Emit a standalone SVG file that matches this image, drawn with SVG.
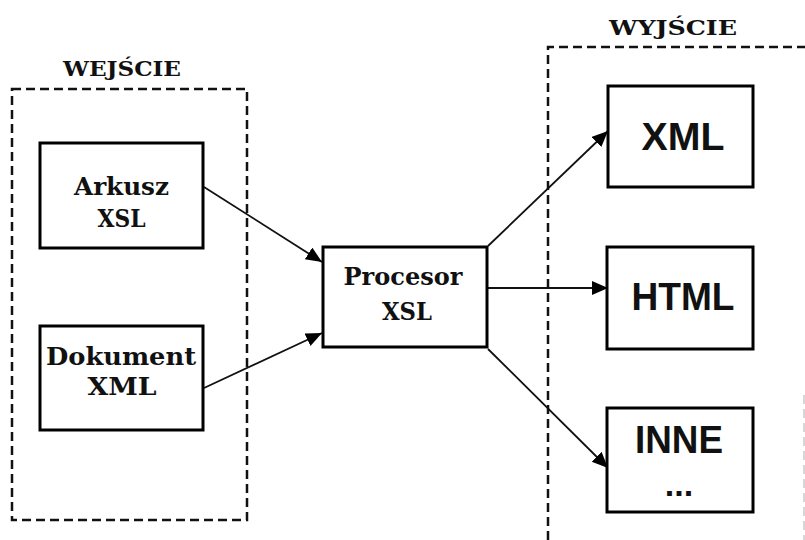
<svg xmlns="http://www.w3.org/2000/svg" width="805" height="540" viewBox="0 0 805 540">
  <defs>
    <marker id="arrow" markerUnits="userSpaceOnUse" markerWidth="18" markerHeight="16" refX="16" refY="7" orient="auto">
      <path d="M0,0 L16,7 L0,14 z" fill="#000"/>
    </marker>
    <style>
      .group { fill: none; stroke: #111; stroke-width: 2.5; stroke-dasharray: 9 5; }
      .box { fill: #fff; stroke: #000; stroke-width: 3; }
      .serif { font-family: "DejaVu Serif", "Liberation Serif", serif; font-weight: bold; fill: #111; text-anchor: middle; }
      .sans { font-family: "Liberation Sans", Arial, sans-serif; font-weight: bold; fill: #111; text-anchor: middle; }
      .conn { stroke: #111; stroke-width: 1.8; fill: none; marker-end: url(#arrow); }
    </style>
  </defs>
  <rect width="805" height="540" fill="#fff"/>

  <g id="wejscie">
    <rect class="group" x="12" y="89" width="235" height="431"/>
    <text class="serif" x="122" y="76" font-size="21" textLength="118" lengthAdjust="spacingAndGlyphs">WEJŚCIE</text>
  </g>

  <g id="wyjscie">
    <path class="group" d="M548,540 L548,47 L805,47"/>
    <path d="M804,395 L804,540" stroke="#bbb" stroke-width="1.2" stroke-dasharray="9 5" fill="none"/>
    <text class="serif" x="673" y="35" font-size="21" textLength="128" lengthAdjust="spacingAndGlyphs">WYJŚCIE</text>
  </g>

  <g id="connectors">
    <line class="conn" x1="204" y1="187" x2="322" y2="262"/>
    <line class="conn" x1="204" y1="388" x2="322" y2="333"/>
    <line class="conn" x1="488" y1="246" x2="608" y2="131"/>
    <line class="conn" x1="488" y1="288" x2="608" y2="288"/>
    <line class="conn" x1="488" y1="349" x2="608" y2="468"/>
  </g>

  <g id="arkusz">
    <rect class="box" x="40" y="143" width="163" height="105"/>
    <text class="serif" x="121.5" y="195" font-size="25" textLength="95" lengthAdjust="spacingAndGlyphs">Arkusz</text>
    <text class="serif" x="121.5" y="227" font-size="25" textLength="48" lengthAdjust="spacingAndGlyphs">XSL</text>
  </g>

  <g id="dokument">
    <rect class="box" x="40" y="326" width="163" height="104"/>
    <text class="serif" x="121" y="365" font-size="25" textLength="150" lengthAdjust="spacingAndGlyphs">Dokument</text>
    <text class="serif" x="122" y="395" font-size="25" textLength="69" lengthAdjust="spacingAndGlyphs">XML</text>
  </g>

  <g id="procesor">
    <rect class="box" x="323" y="247" width="164" height="100"/>
    <text class="serif" x="403" y="285" font-size="25" textLength="119" lengthAdjust="spacingAndGlyphs">Procesor</text>
    <text class="serif" x="407" y="320" font-size="25" textLength="50" lengthAdjust="spacingAndGlyphs">XSL</text>
  </g>

  <g id="out-xml">
    <rect class="box" x="608" y="86" width="145" height="101"/>
    <text class="sans" x="683" y="150" font-size="39" textLength="83" lengthAdjust="spacingAndGlyphs">XML</text>
  </g>

  <g id="out-html">
    <rect class="box" x="607" y="247" width="146" height="102"/>
    <text class="sans" x="683" y="310" font-size="39" textLength="103" lengthAdjust="spacingAndGlyphs">HTML</text>
  </g>

  <g id="out-inne">
    <rect class="box" x="607" y="408" width="146" height="104"/>
    <text class="sans" x="679" y="453" font-size="39" textLength="88" lengthAdjust="spacingAndGlyphs">INNE</text>
    <text class="sans" x="679" y="496" font-size="34">...</text>
  </g>
</svg>
